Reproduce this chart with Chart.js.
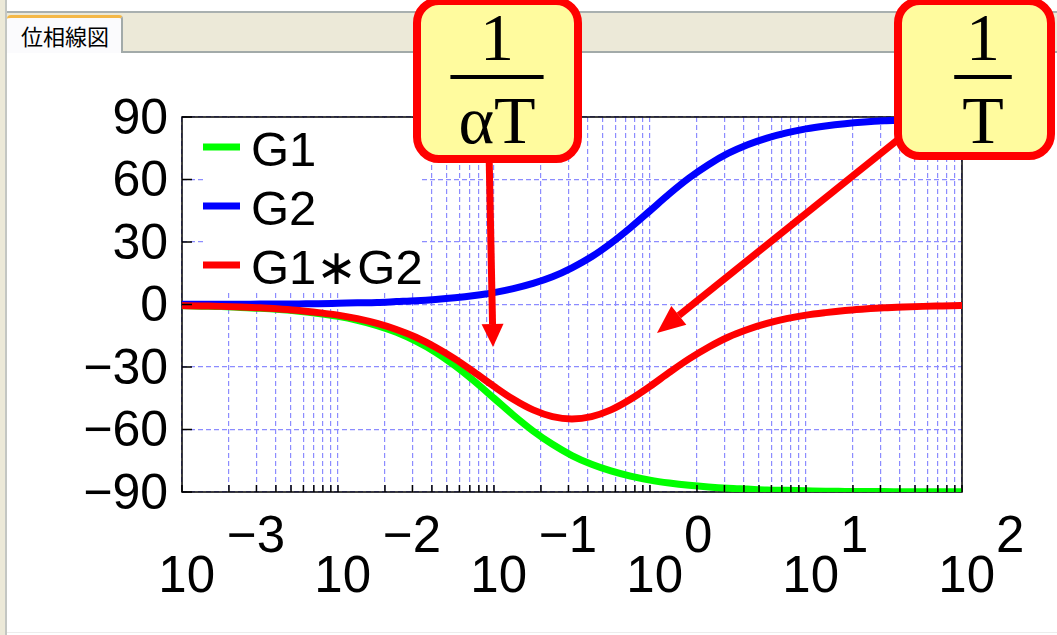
<!DOCTYPE html>
<html lang="ja">
<head>
<meta charset="utf-8">
<title>位相線図</title>
<script src="https://cdn.jsdelivr.net/npm/chart.js@4.4.1/dist/chart.umd.min.js"></script>
<style>
    html, body { margin: 0; padding: 0; background: #fff; }
    #page { position: relative; width: 1057px; height: 635px; overflow: hidden; background: #fff; }
    .edge-left { position: absolute; left: 0; top: 0; width: 5px; height: 635px; background: #ece9d8; }
    .line-left { position: absolute; left: 5px; top: 0; width: 2px; height: 635px; background: #c3c6c2; }
    .top-line { position: absolute; left: 7px; top: 11px; right: 0; height: 2px; background: #a9b0b0; }
    .tabbar { position: absolute; left: 7px; top: 13px; right: 0; height: 38px; background: #ece9d8; border-bottom: 2px solid #a2aaa9; }
    .tab { position: absolute; left: 7px; top: 15px; width: 116px; height: 38px; box-sizing: border-box;
           background: #fbfbfd; border-top: 3px solid #f4b848; border-right: 2px solid #a2aaa9;
           border-radius: 4px 4px 0 0; padding: 5px 0 0 14px;
           font-family: "Noto Sans CJK JP", sans-serif; font-size: 22px; line-height: 24px; color: #000; }
    .bottom-line { position: absolute; left: 7px; right: 0; top: 632px; height: 1px; background: #ececec; }
    canvas { position: absolute; left: 0; top: 0; }
</style>
</head>
<body>
<div id="page">
    <div class="edge-left"></div>
    <div class="line-left"></div>
    <div class="top-line"></div>
    <div class="tabbar"></div>
    <div class="tab">位相線図</div>
    <div class="bottom-line"></div>
    <canvas id="chart" width="1057" height="635"></canvas>
</div>
<script>
/*  Data  */

// angular frequency, 8 samples per decade
const freq = [0.001, 0.00133, 0.00178, 0.00237, 0.00316, 0.00422, 0.00562, 0.0075,
    0.01, 0.0133, 0.0178, 0.0237, 0.0316, 0.0422, 0.0562, 0.075,
    0.1, 0.133, 0.178, 0.237, 0.316, 0.422, 0.562, 0.75,
    1, 1.33, 1.78, 2.37, 3.16, 4.22, 5.62, 7.5,
    10, 13.3, 17.8, 23.7, 31.6, 42.2, 56.2, 75, 100];

// phase in degrees
const phaseG1 = [-0.6, -0.8, -1.0, -1.4, -1.8, -2.4, -3.2, -4.3,
    -5.7, -7.6, -10.1, -13.3, -17.6, -22.9, -29.4, -36.9,
    -45.0, -53.1, -60.7, -67.1, -72.5, -76.7, -79.9, -82.4,
    -84.3, -85.7, -86.8, -87.6, -88.2, -88.6, -89.0, -89.2,
    -89.4, -89.6, -89.7, -89.8, -89.8, -89.9, -89.9, -89.9, -89.9];

const phaseG2 = [0.1, 0.1, 0.1, 0.1, 0.2, 0.2, 0.3, 0.4,
    0.6, 0.8, 1.0, 1.4, 1.8, 2.4, 3.2, 4.3,
    5.7, 7.6, 10.1, 13.3, 17.6, 22.9, 29.4, 36.9,
    45.0, 53.1, 60.7, 67.1, 72.5, 76.7, 79.9, 82.4,
    84.3, 85.7, 86.8, 87.6, 88.2, 88.6, 89.0, 89.2, 89.4];

const phaseG1G2 = [-0.5, -0.7, -0.9, -1.2, -1.6, -2.2, -2.9, -3.9,
    -5.1, -6.8, -9.1, -12.0, -15.7, -20.5, -26.1, -32.6,
    -39.3, -45.5, -50.6, -53.8, -54.9, -53.8, -50.6, -45.5,
    -39.3, -32.6, -26.1, -20.5, -15.7, -12.0, -9.1, -6.8,
    -5.1, -3.9, -2.9, -2.2, -1.6, -1.2, -0.9, -0.7, -0.5];

const seriesLabels = ['G1', 'G2', 'G1*G2'];
const seriesColors = ['#00ff00', '#0000ff', '#ff0000'];

// axis ticks
const decades = [0.001, 0.01, 0.1, 1, 10, 100];
const decadeExp = ['−3', '−2', '−1', '0', '1', '2'];
const yTicks = [-90, -60, -30, 0, 30, 60, 90];
const yTickLabels = ['−90', '−60', '−30', '0', '30', '60', '90'];

// callouts
const callouts = [
    { num: '1', den: 'αT' },
    { num: '1', den: 'T' }
];


/*  Helpers  */

let xTicks = [];
decades.forEach((d, i) => {
    if (i === decades.length - 1) { xTicks.push(d); return; }
    for (let s = 1; s < 10; s++) xTicks.push(Math.round(d * s * 1e6) / 1e6);
});

function toPoints(ys) {
    return freq.map((f, i) => ({ x: f, y: ys[i] }));
}

function roundBox(ctx, x, y, w, h, r) {
    ctx.beginPath();
    ctx.moveTo(x + r, y);
    ctx.lineTo(x + w - r, y);
    ctx.arcTo(x + w, y, x + w, y + r, r);
    ctx.lineTo(x + w, y + h - r);
    ctx.arcTo(x + w, y + h, x + w - r, y + h, r);
    ctx.lineTo(x + r, y + h);
    ctx.arcTo(x, y + h, x, y + h - r, r);
    ctx.lineTo(x, y + r);
    ctx.arcTo(x, y, x + r, y, r);
    ctx.closePath();
}

function arrow(ctx, x1, y1, x2, y2, head, half) {
    const a = Math.atan2(y2 - y1, x2 - x1);
    const bx = x2 - head * Math.cos(a), by = y2 - head * Math.sin(a);
    ctx.beginPath();
    ctx.moveTo(x1, y1);
    ctx.lineTo(bx, by);
    ctx.stroke();
    ctx.beginPath();
    ctx.moveTo(x2, y2);
    ctx.lineTo(bx + half * Math.sin(a), by - half * Math.cos(a));
    ctx.lineTo(bx - half * Math.sin(a), by + half * Math.cos(a));
    ctx.closePath();
    ctx.fill();
}

function drawCallout(ctx, c, box, cx) {
    roundBox(ctx, box[0], box[1], box[2], box[3], 22);
    ctx.fillStyle = '#fffb9e';
    ctx.fill();
    ctx.lineWidth = 8;
    ctx.strokeStyle = '#ff0000';
    ctx.stroke();

    ctx.fillStyle = '#000';
    ctx.font = '68px "Liberation Serif", serif';
    ctx.textAlign = 'center';
    ctx.textBaseline = 'alphabetic';
    ctx.fillText(c.num, cx, 60);
    ctx.fillText(c.den, cx, 143);
    const w = ctx.measureText(c.den).width;
    ctx.fillRect(cx - w / 2 - 8, 75, w + 16, 4);
}


/*  Plugin  */

const phasePlot = {
    id: 'phasePlot',
    beforeDatasetsDraw(chart) {
        const { ctx, chartArea: a } = chart;
        ctx.save();
        ctx.strokeStyle = '#000';
        ctx.lineWidth = 1.5;
        ctx.strokeRect(a.left, a.top, a.right - a.left, a.bottom - a.top);
        ctx.restore();
    },
    afterDatasetsDraw(chart) {
        const { ctx, chartArea: a, scales: { x, y } } = chart;
        ctx.save();

        // legend
        ctx.fillStyle = '#fff';
        ctx.fillRect(203, a.top + 1, 216, 175);
        ctx.font = '49px "Liberation Sans", Arial, sans-serif';
        ctx.textAlign = 'left';
        ctx.textBaseline = 'alphabetic';
        chart.data.datasets.forEach((ds, i) => {
            const ly = 147 + i * 59;
            ctx.strokeStyle = ds.borderColor;
            ctx.lineWidth = 7;
            ctx.beginPath();
            ctx.moveTo(203, ly);
            ctx.lineTo(240, ly);
            ctx.stroke();
            ctx.fillStyle = '#000';
            ctx.fillText(ds.label.replace('*', '∗'), 251, ly + 19);
        });

        // inward tick marks
        ctx.strokeStyle = '#000';
        ctx.lineWidth = 1.5;
        ctx.beginPath();
        x.ticks.forEach(t => {
            const px = x.getPixelForValue(t.value);
            ctx.moveTo(px, a.bottom);
            ctx.lineTo(px, a.bottom - 7);
        });
        y.ticks.forEach(t => {
            const py = y.getPixelForValue(t.value);
            ctx.moveTo(a.left, py);
            ctx.lineTo(a.left + 10, py);
        });
        ctx.stroke();

        // y tick labels
        ctx.fillStyle = '#000';
        ctx.font = '50px "Liberation Sans", Arial, sans-serif';
        ctx.textAlign = 'right';
        yTicks.forEach((v, i) => {
            ctx.fillText(yTickLabels[i], a.left - 14, y.getPixelForValue(v) + 16.5);
        });

        // x tick labels 10^n
        ctx.font = '51px "Liberation Sans", Arial, sans-serif';
        decades.forEach((d, i) => {
            const px = x.getPixelForValue(d);
            ctx.textAlign = 'right';
            ctx.fillText('10', px + 33, 592);
            ctx.textAlign = 'left';
            const neg = decadeExp[i].startsWith('−');
            ctx.fillText(decadeExp[i], px + 33 + (neg ? 12 : 1), 552);
        });
        ctx.restore();
    },
    afterDraw(chart) {
        const { ctx } = chart;
        ctx.save();
        ctx.strokeStyle = '#ff0000';
        ctx.fillStyle = '#ff0000';
        ctx.lineWidth = 7;
        arrow(ctx, 489, 150, 493, 347, 23, 11);
        arrow(ctx, 905, 134, 657, 333, 28, 12);
        drawCallout(ctx, callouts[0], [417, 1, 161, 158], 497);
        drawCallout(ctx, callouts[1], [898, 1, 153, 155], 983);
        ctx.restore();
    }
};


/*  Chart  */

const gridOpts = { color: '#8c8cff', lineWidth: 1.2, drawTicks: false };

new Chart(document.getElementById('chart'), {
    type: 'line',
    data: {
        datasets: [
            { label: seriesLabels[0], data: toPoints(phaseG1), borderColor: seriesColors[0], order: 2 },
            { label: seriesLabels[1], data: toPoints(phaseG2), borderColor: seriesColors[1], order: 1 },
            { label: seriesLabels[2], data: toPoints(phaseG1G2), borderColor: seriesColors[2], order: 0 }
        ]
    },
    options: {
        responsive: false,
        devicePixelRatio: 1,
        animation: false,
        layout: { padding: { left: 182, top: 117, right: 95, bottom: 143 } },
        elements: {
            point: { radius: 0 },
            line: { borderWidth: 7, fill: false, cubicInterpolationMode: 'monotone' }
        },
        scales: {
            x: {
                type: 'logarithmic',
                min: 0.001,
                max: 100,
                afterBuildTicks: scale => { scale.ticks = xTicks.map(v => ({ value: v })); },
                ticks: { display: false },
                grid: gridOpts,
                border: { display: false, dash: [5, 3] }
            },
            y: {
                min: -90,
                max: 90,
                afterBuildTicks: scale => { scale.ticks = yTicks.map(v => ({ value: v })); },
                ticks: { display: false },
                grid: gridOpts,
                border: { display: false, dash: [5, 3] }
            }
        },
        plugins: {
            legend: { display: false },
            tooltip: { enabled: false }
        }
    },
    plugins: [phasePlot]
});
</script>
</body>
</html>
